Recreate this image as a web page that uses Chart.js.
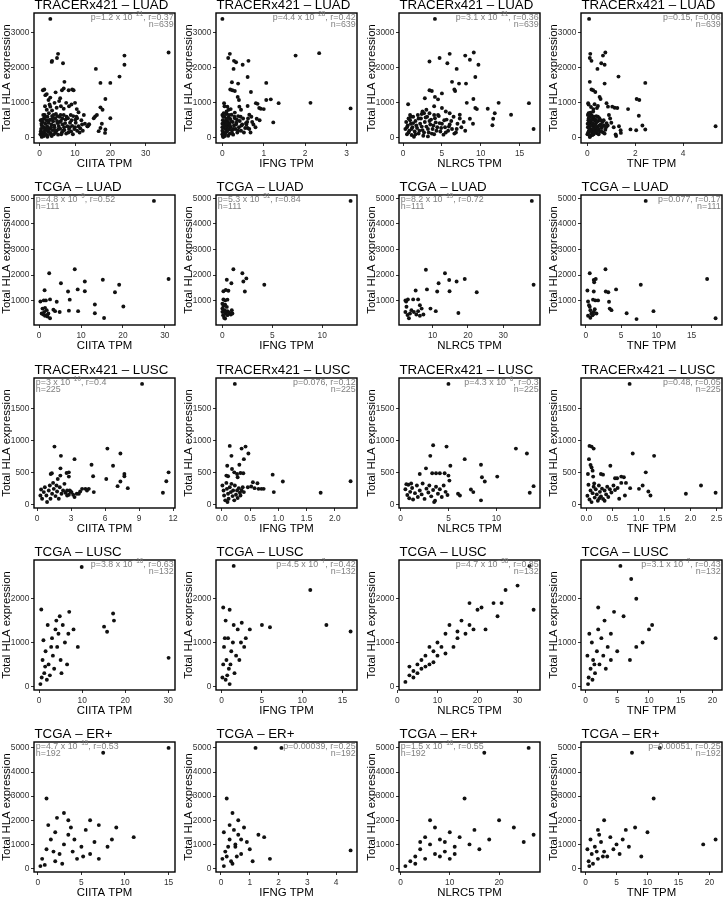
<!DOCTYPE html>
<html><head><meta charset="utf-8">
<script src="https://cdn.jsdelivr.net/npm/chart.js@4"></script>
<style>
html,body{margin:0;padding:0;background:#fff;}
body{width:723px;height:902px;overflow:hidden;position:relative;}
canvas{position:absolute;}
</style></head><body>
<script>
// ---------- categories / labels ----------
const rowTitles = ["TRACERx421 \u2013 LUAD","TCGA \u2013 LUAD","TRACERx421 \u2013 LUSC","TCGA \u2013 LUSC","TCGA \u2013 ER+"];
const genes = ["CIITA","IFNG","NLRC5","TNF"];
const yAxisTitle = "Total HLA expression";

// ---------- annotation values ----------
const pMant = [["1.2","4.4","3.1","0.15"],["4.8","5.3","8.2","0.077"],["3","0.076","4.3","0.48"],["3.8","4.5","4.7","3.1"],["4.7","0.00039","1.5","0.00051"]];
const pExp  = [["\u221221","\u221228","\u221221",null],["\u22129","\u221231","\u221219",null],["\u221210",null,"\u22126",null],["\u221216","\u22127","\u221238","\u22127"],["\u221215",null,"\u221216",null]];
const rVal  = [["0.37","0.42","0.36","0.06"],["0.52","0.84","0.72","0.17"],["0.4","0.12","0.3","0.05"],["0.63","0.42","0.85","0.43"],["0.53","0.25","0.55","0.25"]];
const nVal  = [639,111,225,132,192];
const annotSide = [["R","R","R","R"],["L","L","L","R"],["L","R","R","R"],["R","R","R","R"],["L","R","L","R"]];

// ---------- tick labels ----------
const yTicksByRow = [[0,1000,2000,3000],[1000,2000,3000,4000,5000],[0,500,1000,1500],[0,1000,2000],[0,1000,2000,3000,4000,5000]];
const xTicks = [
  [[0,10,20,30],[0,1,2,3],[0,5,10,15],[0,2,4]],
  [[0,10,20,30],[0,5,10],[10,20,30],[0,5,10,15]],
  [[0,3,6,9,12],[0,0.5,1,1.5,2],[0,5,10],[0,0.5,1,1.5,2,2.5]],
  [[0,10,20,30],[0,5,10,15],[0,10,20,30],[0,5,10,15,20]],
  [[0,5,10,15],[0,1,2,3,4],[0,10,20],[0,5,10,15,20]]
];

// ---------- series values [TPM, Total HLA] ----------
const tx421LUAD_CIITA = [[3.0,3400],[3.5,2200],[3.4,2170],[5.2,2400],[4.9,2280],[6.6,2130],[15.9,1970],[36.5,2440],[24.0,2350],[24.0,2090],[22.6,1750],[20.0,1570],[17.2,1570],[7.0,1600],[18.6,1110],[17.2,870],[17.8,800],[20.0,560],[16.2,650],[15.7,610],[15.3,560],[17.6,400],[17.2,280],[18.6,235],[18.5,140],[16.7,190],[13.9,375],[13.6,330],[10.6,560],[10.1,520],[0.9,1360],[1.3,1380],[1.6,1220],[2.5,1080],[3.0,890],[5.8,1130],[6.3,1360],[6.8,1410],[8.2,1360],[9.2,1380],[9.6,1360],[1.5,900],[2.0,800],[2.8,950],[3.5,780],[4.2,1000],[4.8,860],[5.5,1050],[6.0,900],[6.8,830],[7.5,1000],[8.3,900],[9.0,950],[10.0,1000],[10.5,820],[11.0,730],[12.5,650],[3.0,1150],[4.5,1300],[2.0,1250],[0.2,100],[0.3,180],[0.5,60],[0.4,250],[0.6,350],[0.8,150],[0.9,450],[1.0,90],[1.1,300],[1.2,550],[1.3,200],[1.4,650],[1.5,120],[1.6,400],[1.8,260],[1.9,500],[2.0,80],[2.1,330],[2.2,600],[2.4,180],[2.5,430],[2.6,700],[2.8,250],[3.0,520],[3.1,140],[3.3,380],[3.5,620],[3.6,220],[3.8,470],[4.0,100],[4.2,300],[4.4,560],[4.6,680],[4.8,200],[5.0,420],[5.2,90],[5.4,340],[5.6,600],[5.8,260],[6.0,480],[6.3,150],[6.5,380],[6.8,650],[7.0,220],[7.3,520],[7.5,120],[7.8,330],[8.0,560],[8.3,250],[8.6,430],[8.9,180],[9.2,340],[9.5,620],[9.8,250],[10.2,430],[10.6,200],[11.0,330],[11.5,270],[12.0,380],[12.8,400],[13.5,330],[14.0,390],[0.6,25],[2.2,30],[0.5,400],[0.7,520],[1.0,650],[1.2,50],[1.7,100],[2.3,280],[2.7,500],[3.2,300],[3.4,50],[3.9,650],[4.1,350],[4.5,150],[5.0,620],[5.3,250],[5.7,450],[6.1,100],[6.4,550],[6.9,300],[7.2,420],[7.6,600],[8.1,150],[8.5,300],[9.0,500],[9.4,100],[10.0,300],[10.4,600],[11.3,150],[11.8,500],[0.3,500],[0.8,300],[1.5,600],[2.0,220],[2.9,110],[3.7,560],[4.3,200],[4.9,480],[5.9,650],[6.6,200],[8.8,650],[12.2,200]];
const tx421LUAD_IFNG = [[0.0,3400],[0.18,2400],[0.14,2280],[0.28,2200],[0.33,2160],[0.27,1970],[0.49,2090],[0.63,2200],[1.77,2350],[2.34,2420],[0.23,1590],[0.38,1550],[0.61,1740],[1.06,1570],[0.19,1380],[0.24,1360],[0.3,1340],[0.37,1170],[0.4,1080],[0.69,1310],[1.17,1100],[1.36,990],[2.13,1000],[3.1,840],[1.06,1080],[0.81,990],[0.85,970],[0.89,850],[0.93,830],[1.0,820],[0.83,545],[1.23,440],[0.61,910],[0.41,890],[0.45,800],[0.65,660],[0.57,420],[0.61,280],[0.12,890],[0.15,800],[0.04,990],[0.01,50],[0.02,150],[0.03,300],[0.04,450],[0.05,600],[0.06,100],[0.07,250],[0.08,380],[0.09,520],[0.1,680],[0.11,180],[0.12,320],[0.13,460],[0.14,60],[0.15,580],[0.16,240],[0.17,400],[0.18,120],[0.19,540],[0.2,300],[0.22,660],[0.23,200],[0.25,450],[0.26,90],[0.28,350],[0.3,560],[0.32,250],[0.34,430],[0.36,150],[0.38,620],[0.4,300],[0.42,480],[0.45,200],[0.48,380],[0.5,550],[0.55,280],[0.6,450],[0.65,250],[0.7,600],[0.75,380],[0.1,750],[0.2,820],[0.05,900],[0.3,720],[0.0,200],[0.0,400],[0.0,650],[0.02,20],[0.0,300],[0.01,500],[0.03,700],[0.05,350],[0.07,450],[0.08,150],[0.1,400],[0.12,550],[0.14,230],[0.16,650],[0.18,350],[0.21,480],[0.24,120],[0.27,250],[0.29,600],[0.33,380],[0.35,520],[0.38,200],[0.44,600],[0.46,350],[0.52,150],[0.58,380],[0.62,550],[0.68,150],[0.72,450],[0.8,300],[0.9,500],[0.0,100],[0.02,600],[0.06,50]];
const tx421LUAD_NLRC5 = [[4.1,3400],[6.0,2400],[4.7,2280],[3.4,2180],[5.7,2130],[8.0,2350],[9.1,2440],[8.6,2230],[9.7,2090],[6.9,1970],[9.3,1740],[6.3,1600],[7.2,1550],[8.1,1550],[6.6,1380],[6.7,1340],[3.4,1360],[3.7,1340],[5.0,1270],[2.8,1130],[4.1,1170],[4.5,1100],[9.05,1110],[9.3,850],[9.5,820],[8.2,1000],[12.3,1000],[10.9,830],[11.8,700],[11.6,545],[13.9,660],[11.5,357],[16.2,990],[16.8,250],[0.65,960],[7.3,660],[8.6,545],[7.8,450],[3.0,800],[4.0,900],[5.0,850],[5.5,750],[6.0,700],[2.5,750],[4.5,650],[6.5,600],[7.0,400],[7.5,300],[8.0,200],[6.8,150],[9.0,400],[0.3,250],[0.4,450],[0.5,100],[0.6,350],[0.7,550],[0.8,200],[1.0,400],[1.1,80],[1.2,300],[1.3,600],[1.5,180],[1.6,480],[1.8,280],[1.9,650],[2.0,120],[2.2,400],[2.3,550],[2.5,220],[2.6,60],[2.8,450],[3.0,320],[3.1,600],[3.3,150],[3.5,380],[3.6,520],[3.8,250],[4.0,100],[4.2,440],[4.4,300],[4.6,620],[4.8,180],[5.0,400],[5.2,90],[5.4,300],[5.6,520],[5.8,200],[6.0,380],[6.3,250],[6.6,120],[1.4,30],[3.2,40],[0.9,650],[2.7,700],[0.5,300],[0.7,150],[0.9,500],[1.1,250],[1.3,420],[1.6,100],[1.7,350],[2.0,550],[2.1,200],[2.4,320],[2.7,150],[2.9,580],[3.2,250],[3.4,480],[3.7,120],[3.9,350],[4.1,560],[4.3,200],[4.7,420],[4.9,280],[5.3,500],[5.5,150],[5.9,320],[6.2,480],[6.9,250],[7.3,550],[1.0,600],[2.4,680],[3.4,700],[4.0,650]];
const tx421LUAD_TNF = [[0.07,3400],[0.12,2400],[0.1,2280],[0.17,2200],[0.65,2350],[0.75,2440],[0.58,2130],[0.72,2090],[0.42,1970],[1.3,1750],[2.42,1570],[0.1,1600],[0.72,1550],[0.17,1380],[0.24,1360],[0.33,1310],[0.51,1170],[0.55,1110],[2.06,1110],[2.17,1080],[1.04,890],[1.14,860],[1.25,850],[1.7,820],[2.15,630],[5.36,330],[2.3,350],[2.42,235],[2.04,215],[1.39,215],[1.32,330],[1.18,95],[1.2,50],[1.4,140],[0.8,990],[0.86,890],[0.4,850],[0.44,910],[0.03,990],[0.9,650],[0.95,550],[1.0,430],[0.85,350],[1.1,300],[1.8,240],[0.0,100],[0.02,300],[0.04,500],[0.05,700],[0.06,200],[0.08,400],[0.1,600],[0.12,50],[0.13,250],[0.15,450],[0.17,650],[0.19,150],[0.2,350],[0.22,550],[0.24,750],[0.26,100],[0.28,300],[0.3,500],[0.32,200],[0.35,400],[0.37,620],[0.4,130],[0.42,320],[0.45,480],[0.48,250],[0.5,560],[0.53,180],[0.56,380],[0.6,280],[0.63,450],[0.66,150],[0.7,350],[0.75,230],[0.8,420],[0.05,950],[0.15,880],[0.25,820],[0.3,960],[0.1,20],[0.01,400],[0.03,150],[0.05,550],[0.07,320],[0.09,80],[0.11,480],[0.14,350],[0.16,200],[0.18,520],[0.21,80],[0.23,420],[0.25,250],[0.27,600],[0.29,150],[0.31,380],[0.34,520],[0.36,280],[0.39,450],[0.41,200],[0.44,600],[0.47,100],[0.5,350],[0.55,500],[0.58,180],[0.62,330],[0.68,500],[0.72,120],[0.78,300],[0.02,650],[0.12,720]];

const tcgaLUAD_CIITA = [[27.4,4900],[30.9,1850],[8.5,2230],[2.4,2070],[5.2,1680],[10.9,1750],[15.2,1820],[19.1,1620],[18.1,1330],[9.2,1440],[10.9,1370],[6.9,1360],[1.3,1410],[7.3,1040],[0.3,970],[1.1,1010],[1.6,1010],[2.6,1050],[4.2,960],[13.3,850],[20.1,770],[13.3,510],[15.5,320],[2.6,310],[9.3,590],[7.1,610],[4.9,560],[3.4,650],[3.8,590],[0.8,690],[1.4,720],[1.8,630],[0.6,500],[1.0,460],[1.4,410],[1.8,430],[2.2,500],[1.2,560],[2.0,380]];
const tcgaLUAD_IFNG = [[12.85,4900],[1.1,2230],[2.0,2070],[2.1,1750],[2.4,1870],[0.44,1820],[0.9,1680],[4.2,1620],[2.25,1360],[0.1,1370],[0.34,1420],[0.6,1390],[0.1,1050],[0.27,1010],[0.5,1040],[0.0,884],[0.1,794],[0.27,846],[0.44,756],[0.0,691],[0.07,563],[0.23,627],[0.34,498],[0.5,589],[0.67,537],[0.84,460],[1.0,498],[0.94,627],[0.5,434],[0.17,331],[0.27,305],[0.07,434],[0.0,563]];
const tcgaLUAD_NLRC5 = [[38.1,4900],[38.6,1620],[8.1,2210],[13.5,2070],[14.7,1810],[16.8,1750],[19.1,1850],[11.7,1680],[8.4,1440],[5.2,1400],[11.3,1360],[14.8,1370],[22.5,1330],[2.3,1010],[2.5,970],[3.0,1050],[4.5,1050],[5.9,1050],[6.4,820],[9.4,690],[10.9,590],[17.3,520],[2.3,560],[2.6,760],[2.9,440],[3.3,310],[3.6,500],[4.0,630],[4.7,560],[5.4,460],[5.9,590],[6.4,410],[6.9,690],[7.4,460]];
const tcgaLUAD_TNF = [[8.5,4900],[2.8,2230],[0.57,2070],[1.14,1810],[1.42,1850],[1.2,1720],[7.8,1620],[17.2,1850],[4.3,1440],[0.24,1400],[1.14,1360],[2.84,1360],[3.2,1330],[1.04,1040],[1.37,1010],[1.75,1010],[0.33,970],[3.3,960],[0.57,760],[3.4,690],[3.65,630],[5.8,510],[9.6,590],[7.2,280],[18.4,310],[0.47,820],[0.66,627],[0.8,498],[0.95,434],[1.14,563],[1.28,666],[1.52,498],[0.33,408],[0.66,331],[1.04,460]];

const tx421LUSC_CIITA = [[9.26,1887],[1.53,907],[2.1,763],[3.3,711],[6.2,876],[7.35,799],[4.8,624],[6.7,608],[2.06,567],[2.6,495],[2.8,505],[1.2,479],[1.3,490],[2.8,438],[2.05,454],[4.94,443],[7.7,479],[7.7,443],[6.1,402],[7.35,361],[7.1,289],[8.0,258],[11.6,505],[11.4,366],[11.1,186],[5.0,196],[3.97,247],[4.26,247],[3.8,206],[3.5,170],[3.3,118],[2.5,186],[2.8,155],[2.65,222],[2.94,206],[0.29,144],[0.35,237],[0.44,93],[0.59,196],[0.68,273],[0.82,144],[0.88,41],[1.03,222],[1.12,299],[1.18,93],[1.32,170],[1.41,340],[1.47,247],[1.62,134],[1.71,299],[1.76,206],[1.82,402],[1.91,93],[2.0,273],[2.15,170],[2.29,222],[2.41,325],[2.65,144],[2.88,222],[3.03,196],[3.18,155],[3.68,170],[4.4,222],[4.56,247]];
const tx421LUSC_IFNG = [[0.23,1887],[0.14,918],[0.35,876],[0.42,907],[0.17,763],[0.47,799],[0.39,711],[0.095,608],[0.31,624],[0.18,557],[0.22,505],[0.27,479],[0.33,495],[0.38,490],[0.28,428],[0.08,454],[0.11,443],[0.9,469],[1.08,361],[0.92,196],[1.75,186],[2.28,366],[0.46,273],[0.52,284],[0.58,258],[0.65,247],[0.7,247],[0.74,247],[0.63,335],[0.55,350],[0.01,299],[0.03,222],[0.04,144],[0.06,67],[0.08,340],[0.09,247],[0.11,170],[0.12,93],[0.14,273],[0.16,196],[0.17,325],[0.19,134],[0.2,222],[0.22,67],[0.23,299],[0.25,155],[0.27,222],[0.28,103],[0.3,258],[0.32,186],[0.33,144],[0.35,222],[0.37,273],[0.39,196],[0.1,41]];
const tx421LUSC_NLRC5 = [[5.0,1887],[3.4,928],[4.8,907],[3.1,763],[12.05,876],[13.2,799],[6.7,711],[8.4,624],[5.2,608],[2.65,567],[2.0,479],[3.3,490],[3.7,490],[4.1,490],[4.6,490],[5.0,454],[8.5,428],[10.1,438],[8.8,361],[5.1,376],[7.6,196],[7.35,237],[8.4,67],[6.0,170],[6.2,144],[13.9,289],[13.5,186],[0.5,240],[0.7,150],[0.8,310],[0.9,100],[1.0,200],[1.2,260],[1.3,80],[1.5,180],[1.7,300],[1.8,120],[2.0,220],[2.2,160],[2.3,330],[2.5,90],[2.7,250],[2.9,190],[3.0,300],[3.2,130],[3.4,230],[3.6,60],[3.7,280],[3.9,170],[4.1,240],[4.3,120],[4.5,300],[4.7,200],[4.9,150],[3.5,40],[1.1,330],[0.6,320]];
const tx421LUSC_TNF = [[0.83,1887],[0.06,918],[0.1,907],[0.14,876],[0.89,799],[1.3,763],[0.05,711],[0.08,619],[0.1,582],[0.12,531],[0.13,438],[0.46,608],[0.28,479],[0.32,469],[0.03,479],[1.14,505],[0.67,438],[0.72,428],[0.55,412],[0.59,412],[1.08,299],[2.2,299],[1.91,170],[2.48,186],[1.19,206],[1.23,144],[1.01,247],[0.63,93],[0.74,144],[0.84,258],[0.67,340],[0.76,340],[0.02,140],[0.04,310],[0.06,80],[0.08,220],[0.1,40],[0.12,180],[0.14,280],[0.16,110],[0.18,240],[0.2,160],[0.22,60],[0.24,300],[0.26,200],[0.28,130],[0.3,250],[0.32,90],[0.35,220],[0.38,160],[0.4,280],[0.42,120],[0.45,240],[0.48,190],[0.52,300],[0.55,230],[0.6,260],[0.15,330],[0.25,100],[0.35,60]];

const tcgaLUSC_CIITA = [[9.9,2725],[17.2,1663],[17.4,1500],[15.1,1362],[15.8,1247],[30.1,650],[0.5,1755],[1.0,1050],[0.8,600],[1.2,300],[1.5,800],[2.0,1400],[2.2,500],[2.5,250],[3.0,1100],[3.2,700],[3.5,400],[4.0,1500],[4.2,900],[4.5,1200],[5.0,600],[5.5,1400],[6.0,1000],[6.5,500],[7.0,1700],[0.3,50],[0.6,200],[1.8,150],[2.8,900],[3.8,1300],[1.4,450],[5.2,300],[6.8,1200],[4.8,1600],[8.0,1300],[9.0,900]];
const tcgaLUSC_IFNG = [[1.5,2750],[11.0,2200],[13.0,1400],[16.0,1250],[0.2,1800],[0.5,1500],[0.8,1100],[1.0,1750],[1.5,1400],[2.0,1300],[2.5,1450],[3.0,1100],[0.3,900],[0.6,600],[0.9,400],[1.2,800],[1.6,300],[2.2,600],[2.8,900],[0.1,200],[0.4,1100],[0.7,250],[1.1,500],[1.4,1000],[1.8,700],[2.4,1000],[3.5,1300],[5.0,1400],[6.0,1350],[0.2,500],[0.5,150],[1.0,50]];
const tcgaLUSC_NLRC5 = [[33,2750],[34,1750],[30,2300],[27,2200],[25,1600],[20,1750],[22,1300],[18,1400],[17,1200],[15,1100],[13,1400],[12,1200],[10,1000],[8,900],[7,700],[5,500],[4,350],[2,100],[3,250],[6,600],[9,800],[11,900],[14,900],[16,1500],[19,1300],[21,1800],[24,1900],[6,400],[8,500],[10,700],[12,750],[4,200],[5,300],[7,450],[3,450],[9,550],[15,1250],[18,1900],[26,1900]];
const tcgaLUSC_TNF = [[5.5,2750],[7.2,2450],[8.0,2000],[10.5,1400],[10.0,1300],[6.0,1600],[4.5,1700],[3.0,1500],[2.0,1800],[1.0,1000],[20.5,1100],[8.0,900],[7.0,600],[5.0,800],[0.5,200],[0.8,400],[1.2,600],[1.5,300],[1.8,800],[2.2,500],[2.5,1100],[2.8,700],[3.2,400],[3.5,900],[4.0,600],[0.3,700],[0.6,1200],[1.1,150],[1.4,500],[2.0,1300],[4.0,1200],[9.0,1000],[0.4,50]];

const tcgaER_CIITA = [[15,5000],[7.5,4800],[1,2900],[3,2300],[3.5,2000],[6,2000],[7,1800],[11,1300],[8.5,1200],[2,1500],[0.5,400],[1,800],[1.5,1200],[2,300],[2.5,600],[3,1000],[3.5,1400],[4,700],[4.5,400],[5,900],[5.5,1600],[6,600],[6.5,1100],[7,400],[0.8,150],[1.2,1800],[2.2,2100],[3.8,1700],[4.2,1200],[5.2,500],[8,900],[2.8,200],[1.8,700],[0.3,100],[9,1700]];
const tcgaER_IFNG = [[1.2,5000],[2.1,5000],[4.5,750],[0.2,2900],[0.4,2300],[0.6,2000],[1.5,1300],[1.7,400],[0.1,1500],[0.3,1200],[0.5,900],[0.7,600],[0.9,1100],[1.1,300],[0.2,500],[0.4,200],[0.6,1400],[0.8,1700],[1.0,800],[0.3,1800],[0.5,1000],[0.15,700],[0.05,400],[0.35,300],[0.45,1600],[0.55,500],[0.25,900],[1.3,1400],[0.7,1200],[0.1,100]];
const tcgaER_NLRC5 = [[26,5000],[17,4800],[13,2900],[20,2000],[23,1700],[27,1400],[25,1100],[15,1600],[10,1500],[2,300],[3,500],[4,800],[5,400],[6,1000],[7,600],[8,1200],[9,700],[10,400],[11,900],[12,1300],[5,1300],[6,2000],[7,1700],[4,1100],[3,200],[8,500],[9,1100],[14,1000],[16,800],[18,1200],[1,100],[11,600]];
const tcgaER_TNF = [[12,5000],[7.5,4800],[11,2900],[19,1000],[21,1200],[8,1700],[10,1500],[6,1200],[3,2000],[2,1600],[0.5,300],[1,600],[1.5,900],[2,400],[2.5,1100],[3,700],[3.5,500],[4,1300],[4.5,800],[5,1000],[0.8,1200],[1.2,200],[1.8,700],[2.2,1400],[2.8,500],[5.5,600],[7,900],[0.3,800],[9,500],[6.5,1600],[0.6,100]];

const seriesGrid = [
  [tx421LUAD_CIITA, tx421LUAD_IFNG, tx421LUAD_NLRC5, tx421LUAD_TNF],
  [tcgaLUAD_CIITA, tcgaLUAD_IFNG, tcgaLUAD_NLRC5, tcgaLUAD_TNF],
  [tx421LUSC_CIITA, tx421LUSC_IFNG, tx421LUSC_NLRC5, tx421LUSC_TNF],
  [tcgaLUSC_CIITA, tcgaLUSC_IFNG, tcgaLUSC_NLRC5, tcgaLUSC_TNF],
  [tcgaER_CIITA, tcgaER_IFNG, tcgaER_NLRC5, tcgaER_TNF]
];

// ---------- layout ----------
const FONT = "'Liberation Sans', Arial, Helvetica, sans-serif";
Chart.defaults.font.family = FONT;
const colLeft = [0, 182, 365, 547];
const rowPlotTop = [13, 195, 378, 560, 742];
const PAD_TOP = 14, Y_W = 34, PLOT_W = 141, PLOT_H = 130, X_H = 28, PAD_BOTTOM = 10, PAD_RIGHT = 7;
const CW = Y_W + PLOT_W + PAD_RIGHT, CH = PAD_TOP + PLOT_H + X_H + PAD_BOTTOM;

function expandRange(vals) {
  const mn = Math.min(...vals), mx = Math.max(...vals), d = (mx - mn) * 0.05;
  return [mn - d, mx + d];
}

function drawRich(ctx, segs, x, y, align) {
  const big = 8.9, small = 6.4;
  let total = 0;
  segs.forEach(s => { ctx.font = (s.sup ? small : big) + 'px ' + FONT; s.w = ctx.measureText(s.t).width; total += s.w; });
  let cx = align === 'R' ? x - total : x;
  ctx.textAlign = 'left'; ctx.textBaseline = 'alphabetic';
  segs.forEach(s => {
    ctx.font = (s.sup ? small : big) + 'px ' + FONT;
    ctx.fillText(s.t, cx, s.sup ? y - 3.4 : y);
    cx += s.w;
  });
}

const panelPlugin = {
  id: 'panelDeco',
  afterDraw(chart) {
    const o = chart.options.plugins.panelDeco;
    const {ctx, chartArea: a} = chart;
    ctx.save();
    ctx.strokeStyle = '#000'; ctx.lineWidth = 1.4;
    ctx.strokeRect(a.left, a.top, a.right - a.left, a.bottom - a.top);
    ctx.fillStyle = '#000'; ctx.font = '13.3px ' + FONT;
    ctx.textAlign = 'left'; ctx.textBaseline = 'alphabetic';
    ctx.fillText(o.title, a.left + 0.5, a.top - 3.6);
    ctx.fillStyle = '#808080';
    const segs = [{t: 'p=' + o.pm + (o.pe ? ' x 10' : '')}];
    if (o.pe) segs.push({t: o.pe, sup: true});
    segs.push({t: ', r=' + o.r});
    const ax = o.side === 'R' ? a.right - 1.3 : a.left + 1.8;
    drawRich(ctx, segs, ax, a.top + 6.8, o.side);
    drawRich(ctx, [{t: 'n=' + o.n}], ax, a.top + 14.4, o.side);
    ctx.restore();
  }
};

for (let r = 0; r < 5; r++) {
  const rowY = [].concat(...seriesGrid[r].map(s => s.map(p => p[1])));
  const [ymin, ymax] = expandRange(rowY);
  for (let c = 0; c < 4; c++) {
    const data = seriesGrid[r][c];
    const [xmin, xmax] = expandRange(data.map(p => p[0]));
    const xt = xTicks[r][c];
    const decimals = xt.some(v => !Number.isInteger(v)) ? 1 : 0;
    const cv = document.createElement('canvas');
    cv.width = CW; cv.height = CH;
    cv.style.left = colLeft[c] + 'px';
    cv.style.top = (rowPlotTop[r] - PAD_TOP) + 'px';
    cv.style.width = CW + 'px'; cv.style.height = CH + 'px';
    document.body.appendChild(cv);
    new Chart(cv, {
      type: 'scatter',
      data: { datasets: [{ data: data.map(p => ({x: p[0], y: p[1]})), pointRadius: 1.95, pointBackgroundColor: '#111', pointBorderWidth: 0, pointHoverRadius: 1.95 }] },
      options: {
        responsive: false, animation: false, devicePixelRatio: 1, events: [],
        layout: { autoPadding: false, padding: { left: 0, right: PAD_RIGHT, top: PAD_TOP, bottom: PAD_BOTTOM } },
        plugins: {
          legend: { display: false }, tooltip: { enabled: false }, title: { display: false },
          panelDeco: { title: rowTitles[r], pm: pMant[r][c], pe: pExp[r][c], r: rVal[r][c], n: nVal[r], side: annotSide[r][c] }
        },
        scales: {
          x: {
            type: 'linear', position: 'bottom', min: xmin, max: xmax,
            afterBuildTicks: s => { s.ticks = xt.map(v => ({value: v})); },
            afterFit: s => { s.height = X_H; s.paddingLeft = 0; s.paddingRight = 0; },
            ticks: { autoSkip: false, maxRotation: 0, minRotation: 0, padding: 2.3, color: '#333', font: { size: 8.4 }, callback: v => Number(v).toFixed(decimals) },
            grid: { display: true, drawOnChartArea: false, drawTicks: true, tickLength: 3, tickWidth: 1, tickColor: '#333' },
            border: { display: false },
            title: { display: true, text: genes[c] + ' TPM', color: '#000', font: { size: 11.4 }, padding: { top: 0, bottom: 0 } }
          },
          y: {
            type: 'linear', position: 'left', min: ymin, max: ymax,
            afterBuildTicks: s => { s.ticks = yTicksByRow[r].map(v => ({value: v})); },
            afterFit: s => { s.width = Y_W; s.paddingTop = 0; s.paddingBottom = 0; },
            ticks: { autoSkip: false, padding: 1.6, color: '#333', font: { size: 8.4 }, callback: v => String(v) },
            grid: { display: true, drawOnChartArea: false, drawTicks: true, tickLength: 3, tickWidth: 1, tickColor: '#333' },
            border: { display: false },
            title: { display: true, text: yAxisTitle, color: '#000', font: { size: 11.4 }, padding: { top: 0, bottom: 0 } }
          }
        }
      },
      plugins: [panelPlugin]
    });
  }
}
</script>
</body></html>
